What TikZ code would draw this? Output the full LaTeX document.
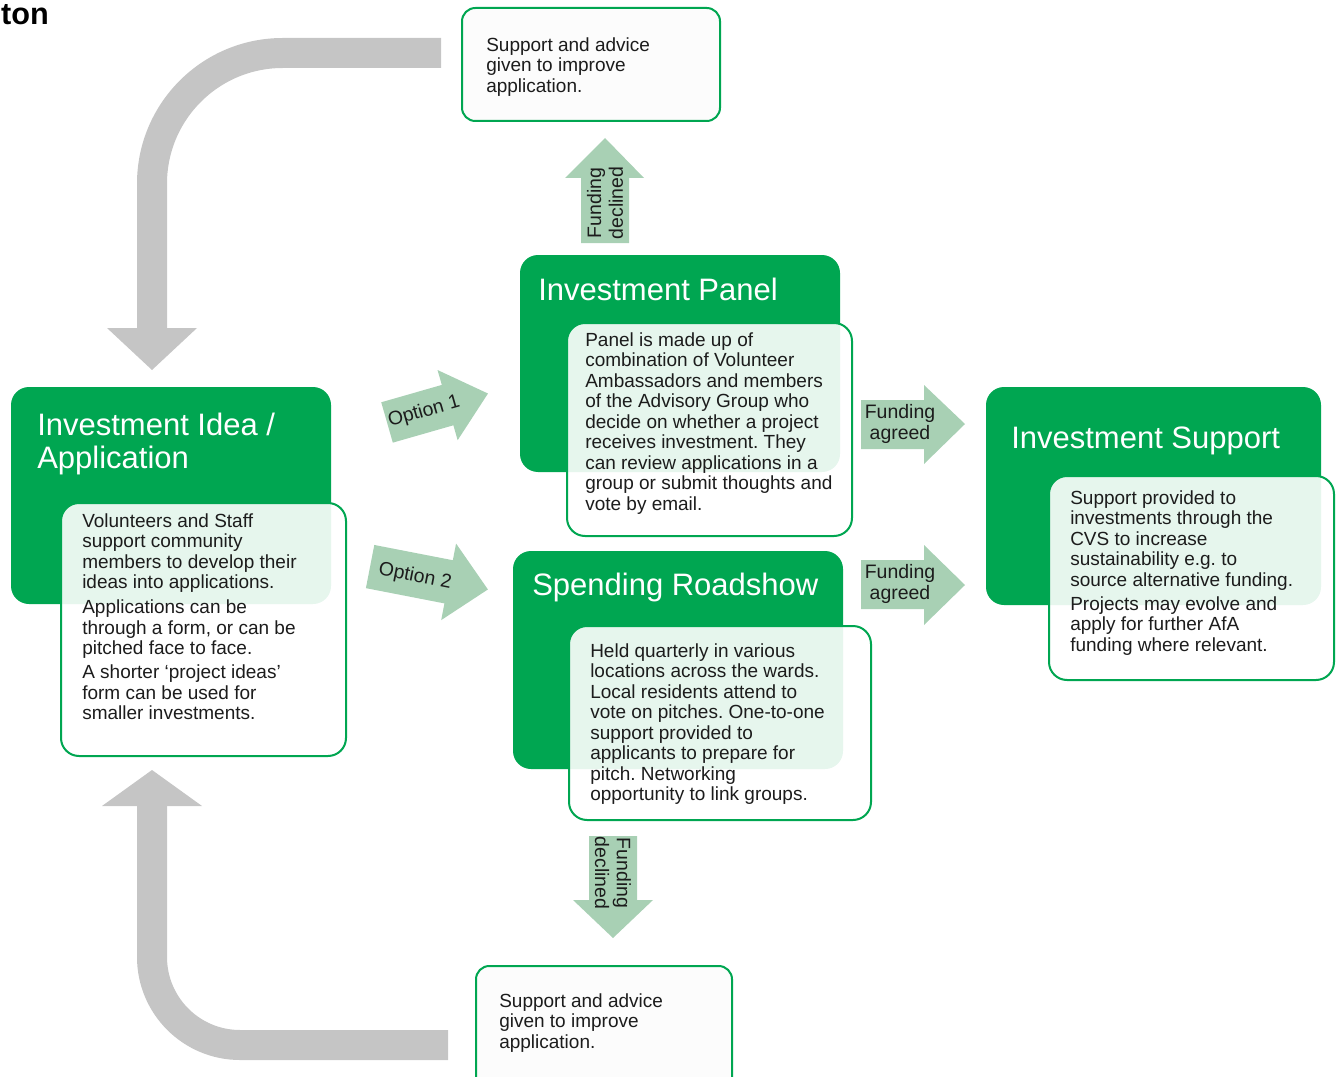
\documentclass[tikz,border=0pt]{standalone}
\usepackage{fontspec}
\setmainfont{Liberation Sans}
\frenchspacing
\definecolor{cgreen}{RGB}{0,166,81}
\definecolor{carrow}{RGB}{168,208,180}
\definecolor{cgray}{RGB}{197,197,197}
\definecolor{ctext}{RGB}{28,28,28}
\newcommand\bodyfnt{\fontsize{14.25}{15.4}\selectfont}
\newcommand\titlefnt{\fontsize{23.25}{24.75}\selectfont}
\newcommand\arrfnt{\fontsize{14.6}{16.4}\selectfont}
\tikzset{
  greenbox/.style={fill=cgreen, rounded corners=13.5pt},
  detailbox/.style={draw=cgreen, line width=1.5pt, fill=white, fill opacity=0.9, rounded corners=13.5pt},
  smallbox/.style={draw=cgreen, line width=1.5pt, fill=white!99!black, rounded corners=10pt},
  bodytext/.style={inner sep=0pt, align=left, font=\bodyfnt, text=ctext, anchor=north west},
  titletext/.style={inner sep=0pt, align=left, font=\titlefnt, text=white, anchor=north west},
  arrtext/.style={inner sep=0pt, align=center, font=\arrfnt, text=ctext},
  blockarr/.style={fill=carrow},
  grayband/.style={draw=cgray, line width=22.5pt}
}
\begin{document}
\begin{tikzpicture}[x=0.75pt,y=-0.75pt]
\useasboundingbox (0,0) rectangle (1339,1077);
\clip (0,0) rectangle (1339,1077);

% title fragment
\node[anchor=base east, inner sep=0pt, font=\bfseries\fontsize{23}{27}\selectfont] (ton) at (49,25) {ton};

% gray return arrows
\coordinate (gtopstart) at (441,53);
\coordinate (gtopcorner) at (152,53);
\coordinate (gtopend) at (152,328);
\draw[grayband, rounded corners=98pt] (gtopstart) -- (gtopcorner) -- (gtopend);
\fill[cgray] (107,328) -- (197,328) -- (152,370) -- cycle;

\coordinate (gbotstart) at (448,1045);
\coordinate (gbotcorner) at (152,1045);
\coordinate (gbotend) at (152,806);
\draw[grayband, rounded corners=66pt] (gbotstart) -- (gbotcorner) -- (gbotend);
\fill[cgray] (102,806) -- (202,806) -- (152,770) -- cycle;

% small advice boxes
\draw[smallbox] (462,8) rectangle (720,121);
\node[bodytext] (advtop) at (486,37) {Support and advice\\given to improve\\application.};
\draw[smallbox] (476,966) rectangle (732,1095);
\node[bodytext] (advbot) at (499,993) {Support and advice\\given to improve\\application.};

% green header boxes
\fill[greenbox] (11,387) rectangle (331,604);
\fill[greenbox] (520,255) rectangle (840,472);
\fill[greenbox] (513,551) rectangle (843,769);
\fill[greenbox] (986,387) rectangle (1321,605);

\node[titletext] (ideatitle) at (37,413) {Investment Idea /\\Application};
\node[titletext] (paneltitle) at (538,278) {Investment Panel};
\node[titletext] (roadtitle) at (532,573) {Spending Roadshow};
\node[titletext] (supptitle) at (1011,427) {Investment Support};

% detail boxes
\draw[detailbox] (61,503) rectangle (346,756);
\draw[detailbox] (567,323) rectangle (852,536);
\draw[detailbox] (569,626) rectangle (871,820);
\draw[detailbox] (1049,476) rectangle (1334,680);

\node[bodytext] (ideatext) at (82,513) {Volunteers and Staff\\support community\\members to develop their\\ideas into applications.\\[3.4pt]Applications can be\\through a form, or can be\\pitched face to face.\\[2.6pt]A shorter ‘project ideas’\\form can be used for\\smaller investments.};
\node[bodytext] (paneltext) at (585,332) {Panel is made up of\\combination of Volunteer\\Ambassadors and members\\of the Advisory Group who\\decide on whether a project\\receives investment. They\\can review applications in a\\group or submit thoughts and\\vote by email.};
\node[bodytext] (roadtext) at (590,643) {Held quarterly in various\\locations across the wards.\\Local residents attend to\\vote on pitches. One-to-one\\support provided to\\applicants to prepare for\\pitch. Networking\\opportunity to link groups.};
\node[bodytext] (supptext) at (1070,490) {Support provided to\\investments through the\\CVS to increase\\sustainability e.g. to\\source alternative funding.\\[2.6pt]Projects may evolve and\\apply for further AfA\\funding where relevant.};

% option arrows
\begin{scope}[shift={(437.5,408)}, rotate=16]
\fill[blockarr] (-52.5,-21) -- (10.5,-21) -- (10.5,-36.5) -- (52.5,0) -- (10.5,36.5) -- (10.5,21) -- (-52.5,21) -- cycle;
\end{scope}
\node[arrtext, rotate=16] (opt1) at (424,412) {Option 1};

\begin{scope}[shift={(429,578)}, rotate=-11]
\fill[blockarr] (-60,-22) -- (20,-22) -- (20,-39) -- (60,0) -- (20,39) -- (20,22) -- (-60,22) -- cycle;
\end{scope}
\node[arrtext, rotate=-11] (opt2) at (415,577) {Option 2};

% funding agreed arrows
\fill[blockarr] (861,400) -- (924,400) -- (924,385) -- (965,424) -- (924,464) -- (924,449) -- (861,449) -- cycle;
\node[arrtext] (agree1) at (900,424) {Funding\\agreed};
\fill[blockarr] (861,560) -- (924,560) -- (924,545) -- (965,585) -- (924,625) -- (924,609) -- (861,609) -- cycle;
\node[arrtext] (agree2) at (900,584) {Funding\\agreed};

% funding declined arrows
\fill[blockarr] (581,243) -- (581,178) -- (565,178) -- (605,138) -- (644,178) -- (629,178) -- (629,243) -- cycle;
\node[arrtext, rotate=90] (decl1) at (605,203) {Funding\\declined};
\fill[blockarr] (589,836) -- (589,900) -- (573,900) -- (613,938) -- (653,900) -- (637,900) -- (637,836) -- cycle;
\node[arrtext, rotate=-90] (decl2) at (613,873) {Funding\\declined};
\end{tikzpicture}
\end{document}
